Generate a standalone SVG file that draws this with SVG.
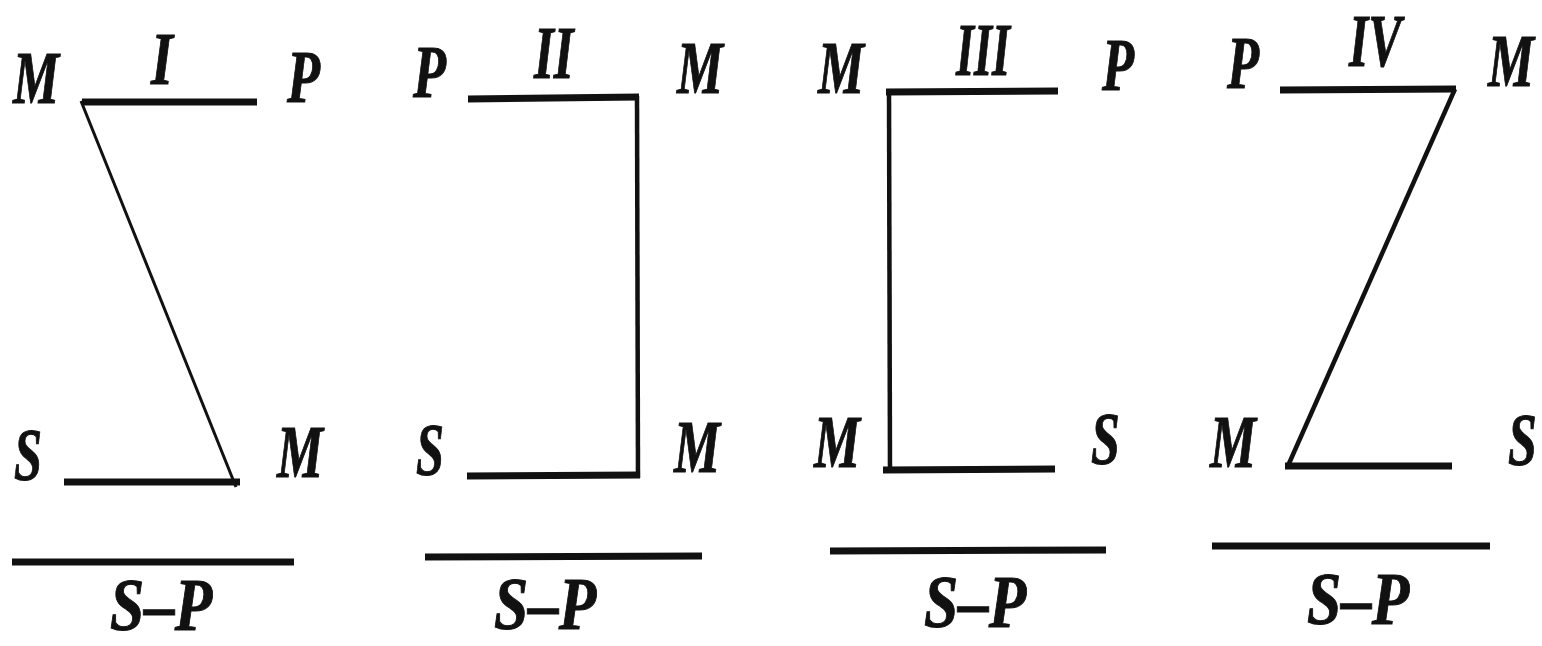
<svg xmlns="http://www.w3.org/2000/svg" width="1542" height="646" viewBox="0 0 1542 646">
<style>
.t{font-family:"Liberation Serif","Times New Roman",serif;font-style:italic;font-weight:bold;font-size:74px;fill:#111;stroke:#111;stroke-width:1}
.thick{stroke:#111;stroke-width:7;fill:none;stroke-linecap:butt}
.mid{stroke:#111;stroke-width:4.5;fill:none}
.thin{stroke:#111;stroke-width:3;fill:none}
</style>
<rect width="1542" height="646" fill="#fff"/>
<g id="fig1">
<text class="t" transform="translate(13,103) scale(0.7,1)">M</text>
<text class="t" transform="translate(151,84) scale(0.76,1)">I</text>
<text class="t" transform="translate(287,102) scale(0.73,1)">P</text>
<text class="t" transform="translate(14,480) scale(0.68,1)">S</text>
<text class="t" transform="translate(277,477) scale(0.7,1)">M</text>
<text class="t" transform="translate(110,630) scale(0.83,1)">S–P</text>
</g>
<g id="fig2">
<text class="t" transform="translate(413,97) scale(0.73,1)">P</text>
<text class="t" transform="translate(534,78) scale(0.69,1)">II</text>
<text class="t" transform="translate(677,93) scale(0.7,1)">M</text>
<text class="t" transform="translate(416,475) scale(0.68,1)">S</text>
<text class="t" transform="translate(674,472) scale(0.7,1)">M</text>
<text class="t" transform="translate(494,629) scale(0.83,1)">S–P</text>
</g>
<g id="fig3">
<text class="t" transform="translate(818,93) scale(0.7,1)">M</text>
<text class="t" transform="translate(956,75) scale(0.625,1)">III</text>
<text class="t" transform="translate(1102,90) scale(0.71,1)">P</text>
<text class="t" transform="translate(814,467) scale(0.7,1)">M</text>
<text class="t" transform="translate(1091,464) scale(0.7,1)">S</text>
<text class="t" transform="translate(924,627) scale(0.83,1)">S–P</text>
</g>
<g id="fig4">
<text class="t" transform="translate(1227,88) scale(0.71,1)">P</text>
<text class="t" transform="translate(1349,66) scale(0.67,1)">IV</text>
<text class="t" transform="translate(1488,86) scale(0.7,1)">M</text>
<text class="t" transform="translate(1210,467) scale(0.7,1)">M</text>
<text class="t" transform="translate(1508,465) scale(0.7,1)">S</text>
<text class="t" transform="translate(1307,624) scale(0.83,1)">S–P</text>
</g>
<g id="connectors">
<line class="thick" x1="82" y1="102" x2="257" y2="102"/>
<line class="thin" x1="81" y1="101" x2="236" y2="487"/>
<line class="thick" x1="64" y1="482" x2="240" y2="482"/>
<line class="thick" x1="12" y1="562" x2="294" y2="562"/>

<line class="thick" x1="468" y1="99" x2="639" y2="97"/>
<line class="mid" x1="637" y1="96" x2="638" y2="478"/>
<line class="thick" x1="467" y1="476" x2="640" y2="475"/>
<line class="thick" x1="425" y1="557" x2="702" y2="556"/>

<line class="thick" x1="886" y1="92" x2="1058" y2="91"/>
<line class="mid" x1="889" y1="90" x2="890" y2="472"/>
<line class="thick" x1="883" y1="470" x2="1055" y2="469"/>
<line class="thick" x1="830" y1="551" x2="1106" y2="550"/>

<line class="thick" x1="1280" y1="90" x2="1456" y2="89"/>
<line class="mid" x1="1455" y1="89" x2="1287" y2="468"/>
<line class="thick" x1="1285" y1="466" x2="1452" y2="466"/>
<line class="thick" x1="1212" y1="546" x2="1490" y2="546"/>
</g>
</svg>
